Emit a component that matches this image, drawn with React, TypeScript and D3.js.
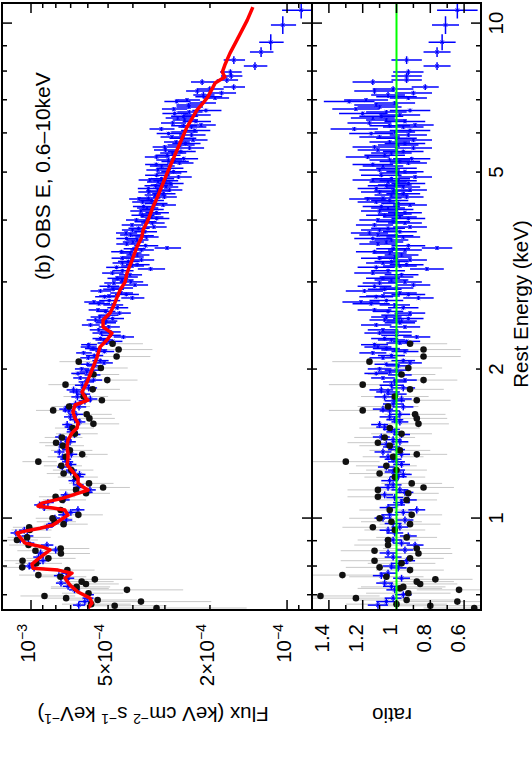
import React from 'react';
import * as d3 from 'd3';

// ---------- data ----------
// model curve: [energy keV, flux keV cm^-2 s^-1 keV^-1]
const modelCurve: [number, number][] = [
  [0.658, 5.99e-4], [0.673, 5.78e-4], [0.689, 5.88e-4], [0.709, 6.55e-4], [0.732, 7.04e-4],
  [0.756, 7.37e-4], [0.774, 6.92e-4], [0.785, 7.84e-4], [0.792, 9.82e-4], [0.807, 9.91e-4],
  [0.823, 9.47e-4], [0.862, 8.43e-4], [0.874, 8.98e-4], [0.89, 1.055e-3], [0.915, 1.104e-3],
  [0.933, 1.134e-3], [0.941, 1.055e-3], [0.954, 9.22e-4], [0.968, 8.21e-4], [1.014, 7.17e-4],
  [1.038, 7.37e-4], [1.048, 8.21e-4], [1.057, 9.39e-4], [1.072, 9.06e-4], [1.097, 7.5e-4],
  [1.139, 5.99e-4], [1.155, 6.26e-4], [1.177, 6.55e-4], [1.204, 6.55e-4], [1.239, 6.86e-4],
  [1.28, 7.23e-4], [1.322, 7.17e-4], [1.353, 7.17e-4], [1.391, 7.23e-4], [1.437, 7.17e-4],
  [1.485, 6.92e-4], [1.52, 6.61e-4], [1.555, 6.55e-4], [1.592, 6.73e-4], [1.637, 6.86e-4],
  [1.692, 6.73e-4], [1.731, 5.99e-4], [1.755, 6.15e-4], [1.797, 6.32e-4], [1.882, 6.04e-4],
  [1.991, 5.78e-4], [2.115, 5.52e-4], [2.215, 5.38e-4], [2.289, 5.05e-4], [2.364, 4.83e-4],
  [2.432, 5.23e-4], [2.512, 5.23e-4], [2.595, 4.91e-4], [2.669, 4.78e-4], [2.796, 4.61e-4],
  [2.888, 4.49e-4], [2.998, 4.29e-4], [3.126, 4.22e-4], [3.32, 4.03e-4], [3.527, 3.86e-4],
  [3.697, 3.69e-4], [3.818, 3.65e-4], [4.0, 3.49e-4], [4.249, 3.34e-4], [4.431, 3.22e-4],
  [4.977, 2.94e-4], [5.54, 2.69e-4], [6.165, 2.46e-4], [6.672, 2.25e-4], [6.893, 2.13e-4],
  [7.088, 2.04e-4], [7.565, 1.91e-4], [7.779, 1.75e-4], [7.962, 1.79e-4], [8.227, 1.75e-4],
  [8.698, 1.67e-4], [9.241, 1.57e-4], [10.14, 1.43e-4], [10.77, 1.36e-4],
];

// blue spectrum: [energy keV, bin half-width keV, data/model ratio, ratio error]
const blueBins: [number, number, number, number][] = [
  [0.667, 0.011, 1.11, 0.06], [0.678, 0.011, 1.06, 0.06], [0.689, 0.011, 1.02, 0.05], [0.7, 0.011, 0.96, 0.05],
  [0.716, 0.011, 1.01, 0.05], [0.728, 0.012, 1.03, 0.05], [0.739, 0.012, 1.07, 0.05], [0.756, 0.012, 0.97, 0.05],
  [0.765, 0.012, 1.09, 0.05], [0.774, 0.012, 1.05, 0.05], [0.793, 0.013, 0.99, 0.05], [0.8, 0.013, 1.03, 0.05],
  [0.81, 0.013, 0.98, 0.05], [0.82, 0.013, 0.94, 0.05], [0.834, 0.013, 1.02, 0.05], [0.85, 0.014, 1.05, 0.05],
  [0.862, 0.014, 0.95, 0.05], [0.882, 0.014, 0.89, 0.05], [0.89, 0.014, 0.97, 0.05], [0.903, 0.014, 1.02, 0.05],
  [0.92, 0.015, 0.93, 0.05], [0.933, 0.015, 1.01, 0.05], [0.945, 0.015, 1.05, 0.05], [0.959, 0.015, 0.98, 0.05],
  [0.975, 0.016, 1.02, 0.05], [0.991, 0.016, 0.95, 0.05], [1.0, 0.016, 1.08, 0.05], [1.015, 0.016, 1.04, 0.05],
  [1.027, 0.016, 0.96, 0.05], [1.039, 0.017, 0.88, 0.05], [1.05, 0.017, 1.05, 0.05], [1.063, 0.017, 1.0, 0.05],
  [1.075, 0.017, 0.97, 0.05], [1.088, 0.017, 0.93, 0.05], [1.1, 0.018, 1.01, 0.05], [1.114, 0.018, 1.07, 0.05],
  [1.127, 0.018, 0.95, 0.05], [1.14, 0.018, 0.98, 0.05], [1.153, 0.018, 1.05, 0.05], [1.167, 0.019, 1.02, 0.05],
  [1.19, 0.019, 1.04, 0.05], [1.212, 0.019, 0.99, 0.05], [1.225, 0.02, 0.96, 0.05], [1.239, 0.02, 1.02, 0.05],
  [1.25, 0.02, 1.0, 0.05], [1.268, 0.02, 1.06, 0.05], [1.283, 0.02, 0.97, 0.05], [1.299, 0.021, 1.0, 0.05],
  [1.315, 0.021, 1.02, 0.05], [1.329, 0.021, 1.05, 0.05], [1.345, 0.021, 0.97, 0.05], [1.36, 0.022, 1.08, 0.05],
  [1.375, 0.022, 1.0, 0.05], [1.392, 0.022, 1.03, 0.05], [1.41, 0.022, 1.06, 0.05], [1.426, 0.023, 0.98, 0.05],
  [1.44, 0.023, 1.02, 0.05], [1.458, 0.023, 1.09, 0.05], [1.475, 0.024, 0.97, 0.05], [1.493, 0.024, 1.01, 0.05],
  [1.51, 0.024, 1.03, 0.05], [1.527, 0.024, 1.07, 0.05], [1.545, 0.025, 1.1, 0.05], [1.564, 0.025, 0.98, 0.05],
  [1.58, 0.025, 1.01, 0.05], [1.601, 0.026, 1.04, 0.06], [1.62, 0.026, 0.98, 0.06], [1.646, 0.026, 1.04, 0.06],
  [1.66, 0.026, 1.08, 0.06], [1.677, 0.027, 0.96, 0.06], [1.7, 0.027, 1.02, 0.06], [1.725, 0.028, 1.01, 0.06],
  [1.74, 0.028, 0.97, 0.06], [1.757, 0.028, 1.07, 0.06], [1.78, 0.028, 1.0, 0.06], [1.798, 0.029, 1.05, 0.07],
  [1.815, 0.029, 1.09, 0.07], [1.832, 0.029, 0.96, 0.07], [1.855, 0.029, 1.03, 0.07], [1.884, 0.03, 1.01, 0.07],
  [1.9, 0.018, 0.95, 0.07], [1.919, 0.018, 1.08, 0.07], [1.946, 0.018, 0.98, 0.07], [1.96, 0.018, 1.12, 0.07],
  [1.973, 0.018, 1.04, 0.07], [1.99, 0.019, 1.0, 0.07], [2.001, 0.019, 1.1, 0.07], [2.03, 0.019, 0.99, 0.07],
  [2.045, 0.019, 1.06, 0.07], [2.058, 0.019, 0.92, 0.07], [2.08, 0.02, 0.96, 0.07], [2.107, 0.02, 1.08, 0.08],
  [2.13, 0.02, 1.03, 0.08], [2.156, 0.02, 1.14, 0.08], [2.17, 0.02, 0.95, 0.08], [2.186, 0.02, 1.01, 0.08],
  [2.2, 0.021, 1.06, 0.08], [2.216, 0.021, 1.11, 0.08], [2.24, 0.021, 1.13, 0.08], [2.258, 0.021, 0.98, 0.08],
  [2.275, 0.021, 0.94, 0.08], [2.29, 0.021, 1.03, 0.08], [2.305, 0.022, 1.07, 0.08], [2.322, 0.022, 0.88, 0.08],
  [2.34, 0.022, 1.0, 0.09], [2.365, 0.022, 1.1, 0.09], [2.377, 0.022, 1.0, 0.09], [2.4, 0.022, 1.08, 0.09],
  [2.433, 0.023, 0.95, 0.09], [2.455, 0.023, 1.12, 0.09], [2.48, 0.023, 0.98, 0.09], [2.5, 0.023, 0.97, 0.09],
  [2.513, 0.023, 1.07, 0.09], [2.53, 0.023, 0.93, 0.09], [2.548, 0.024, 1.06, 0.09], [2.57, 0.024, 1.0, 0.09],
  [2.595, 0.024, 0.92, 0.09], [2.615, 0.024, 1.05, 0.09], [2.633, 0.024, 1.13, 0.1], [2.66, 0.025, 0.96, 0.09],
  [2.695, 0.025, 1.01, 0.09], [2.71, 0.025, 1.15, 0.11], [2.732, 0.025, 1.21, 0.11], [2.75, 0.025, 1.06, 0.1],
  [2.784, 0.026, 0.87, 0.09], [2.8, 0.026, 1.12, 0.1], [2.81, 0.026, 1.08, 0.1], [2.83, 0.026, 0.93, 0.1],
  [2.849, 0.026, 0.98, 0.1], [2.876, 0.027, 1.19, 0.11], [2.9, 0.027, 1.07, 0.1], [2.916, 0.027, 1.0, 0.1],
  [2.94, 0.027, 1.13, 0.1], [2.957, 0.027, 0.9, 0.1], [2.985, 0.028, 1.1, 0.1], [3.0, 0.028, 0.95, 0.1],
  [3.027, 0.028, 1.03, 0.1], [3.05, 0.028, 1.08, 0.1], [3.069, 0.029, 1.0, 0.1], [3.1, 0.029, 0.97, 0.1],
  [3.126, 0.029, 1.14, 0.11], [3.16, 0.029, 1.05, 0.1], [3.186, 0.03, 0.82, 0.1], [3.21, 0.03, 1.12, 0.11],
  [3.231, 0.03, 0.98, 0.1], [3.25, 0.03, 0.94, 0.1], [3.276, 0.03, 1.08, 0.1], [3.3, 0.03, 1.03, 0.1],
  [3.322, 0.031, 0.92, 0.1], [3.35, 0.031, 1.1, 0.11], [3.369, 0.031, 1.01, 0.1], [3.4, 0.031, 0.97, 0.1],
  [3.431, 0.032, 1.04, 0.1], [3.45, 0.032, 1.13, 0.11], [3.48, 0.032, 0.95, 0.1], [3.5, 0.032, 1.02, 0.1],
  [3.513, 0.033, 0.76, 0.09], [3.55, 0.033, 0.93, 0.1], [3.579, 0.033, 1.11, 0.11], [3.61, 0.033, 1.06, 0.1],
  [3.646, 0.034, 1.03, 0.1], [3.67, 0.034, 1.14, 0.11], [3.697, 0.034, 0.96, 0.1], [3.72, 0.034, 1.0, 0.1],
  [3.732, 0.035, 1.11, 0.11], [3.767, 0.035, 1.16, 0.11], [3.79, 0.035, 0.98, 0.1], [3.819, 0.036, 1.1, 0.11],
  [3.85, 0.036, 1.05, 0.1], [3.873, 0.036, 0.92, 0.1], [3.91, 0.036, 1.13, 0.11], [3.946, 0.037, 0.95, 0.1],
  [3.97, 0.037, 1.02, 0.1], [4.001, 0.037, 1.11, 0.11], [4.03, 0.037, 0.93, 0.1], [4.058, 0.038, 0.98, 0.1],
  [4.09, 0.038, 1.07, 0.11], [4.114, 0.038, 1.01, 0.1], [4.14, 0.038, 0.95, 0.1], [4.172, 0.039, 1.1, 0.11],
  [4.2, 0.039, 1.0, 0.1], [4.231, 0.039, 1.05, 0.1], [4.26, 0.039, 1.09, 0.11], [4.29, 0.04, 0.92, 0.1],
  [4.32, 0.04, 0.99, 0.1], [4.35, 0.04, 1.12, 0.11], [4.38, 0.04, 1.04, 0.11], [4.412, 0.041, 1.17, 0.11],
  [4.43, 0.041, 1.08, 0.11], [4.453, 0.041, 0.94, 0.1], [4.495, 0.042, 1.03, 0.1], [4.52, 0.042, 0.96, 0.1],
  [4.557, 0.042, 1.1, 0.11], [4.58, 0.042, 1.02, 0.11], [4.6, 0.043, 0.92, 0.1], [4.63, 0.043, 1.12, 0.11],
  [4.665, 0.043, 0.96, 0.1], [4.69, 0.043, 1.06, 0.11], [4.709, 0.044, 1.01, 0.1], [4.74, 0.044, 0.93, 0.1],
  [4.774, 0.044, 1.05, 0.11], [4.8, 0.044, 0.99, 0.11], [4.819, 0.045, 1.14, 0.12], [4.85, 0.045, 1.03, 0.11],
  [4.887, 0.045, 0.89, 0.1], [4.93, 0.046, 1.09, 0.12], [4.979, 0.046, 0.99, 0.11], [5.01, 0.046, 0.95, 0.11],
  [5.049, 0.047, 1.1, 0.12], [5.09, 0.047, 1.0, 0.12], [5.143, 0.048, 1.08, 0.12], [5.18, 0.048, 1.14, 0.12],
  [5.215, 0.048, 0.93, 0.11], [5.25, 0.048, 0.98, 0.12], [5.289, 0.049, 1.04, 0.12], [5.32, 0.049, 0.91, 0.11],
  [5.363, 0.05, 1.17, 0.13], [5.41, 0.05, 1.07, 0.12], [5.463, 0.051, 1.03, 0.12], [5.5, 0.051, 0.96, 0.12],
  [5.541, 0.052, 1.11, 0.12], [5.592, 0.052, 0.9, 0.11], [5.62, 0.052, 1.13, 0.13], [5.671, 0.053, 0.99, 0.12],
  [5.71, 0.053, 0.95, 0.12], [5.751, 0.053, 1.04, 0.12], [5.804, 0.054, 0.9, 0.11], [5.85, 0.054, 1.0, 0.12],
  [5.886, 0.055, 1.1, 0.12], [5.941, 0.055, 0.93, 0.11], [5.98, 0.055, 1.15, 0.13], [6.024, 0.056, 1.01, 0.12],
  [6.07, 0.056, 0.92, 0.12], [6.11, 0.057, 1.25, 0.14], [6.166, 0.057, 0.96, 0.12], [6.2, 0.057, 1.04, 0.12],
  [6.224, 0.058, 0.89, 0.11], [6.282, 0.058, 1.16, 0.13], [6.33, 0.058, 0.95, 0.12], [6.37, 0.059, 1.06, 0.12],
  [6.43, 0.06, 1.14, 0.13], [6.48, 0.06, 1.09, 0.13], [6.52, 0.061, 0.98, 0.12], [6.57, 0.061, 1.2, 0.14],
  [6.611, 0.061, 1.06, 0.12], [6.66, 0.061, 0.92, 0.12], [6.704, 0.062, 1.24, 0.14], [6.767, 0.063, 1.1, 0.13],
  [6.83, 0.063, 1.12, 0.13], [6.894, 0.064, 1.01, 0.12], [6.94, 0.064, 1.28, 0.15], [6.99, 0.065, 1.18, 0.13],
  [7.057, 0.066, 0.93, 0.11], [7.1, 0.07, 1.0, 0.12], [7.155, 0.1, 1.05, 0.1], [7.22, 0.08, 0.9, 0.11],
  [7.289, 0.1, 1.13, 0.12], [7.36, 0.09, 1.02, 0.12], [7.427, 0.1, 0.83, 0.08], [7.6, 0.1, 1.14, 0.12],
  [7.672, 0.105, 0.94, 0.09], [7.816, 0.11, 0.94, 0.09], [7.962, 0.11, 0.93, 0.09], [8.188, 0.15, 0.76, 0.08],
  [8.419, 0.15, 0.94, 0.09], [8.74, 0.2, 0.76, 0.08], [9.15, 0.34, 0.73, 0.08], [9.91, 0.41, 0.71, 0.08],
  [10.62, 0.4, 0.64, 0.12],
];

// black spectrum: [energy keV, data/model ratio, ratio error]
const blackPoints: [number, number, number][] = [
  [0.658, 0.54, 0.3], [0.665, 0.8, 0.3], [0.67, 1.0, 0.3], [0.678, 0.64, 0.3], [0.683, 0.94, 0.28],
  [0.689, 1.24, 0.3], [0.696, 1.45, 0.35], [0.705, 0.93, 0.25], [0.716, 0.63, 0.25], [0.721, 0.98, 0.25],
  [0.726, 0.96, 0.25], [0.736, 0.86, 0.22], [0.744, 0.88, 0.22], [0.752, 0.77, 0.22], [0.761, 1.06, 0.22],
  [0.767, 1.32, 0.25], [0.785, 0.92, 0.2], [0.795, 1.1, 0.2], [0.81, 0.97, 0.2], [0.82, 1.13, 0.2],
  [0.829, 0.92, 0.2], [0.848, 0.87, 0.2], [0.859, 1.13, 0.2], [0.868, 0.88, 0.2], [0.882, 1.05, 0.2],
  [0.903, 1.05, 0.18], [0.914, 0.94, 0.18], [0.946, 1.01, 0.18], [0.958, 1.14, 0.18], [0.972, 0.92, 0.18],
  [0.983, 1.03, 0.18], [0.999, 1.1, 0.18], [1.015, 0.91, 0.18], [1.038, 1.04, 0.18], [1.088, 0.94, 0.18],
  [1.104, 1.11, 0.18], [1.122, 0.93, 0.18], [1.14, 1.11, 0.18], [1.153, 0.84, 0.18], [1.175, 0.91, 0.18],
  [1.21, 1.01, 0.18], [1.23, 1.1, 0.18], [1.25, 1.0, 0.18], [1.275, 1.06, 0.18], [1.3, 1.3, 0.2],
  [1.33, 1.02, 0.18], [1.345, 0.88, 0.18], [1.37, 0.98, 0.18], [1.4, 1.04, 0.18], [1.42, 1.11, 0.18],
  [1.455, 1.07, 0.18], [1.48, 0.97, 0.18], [1.52, 1.04, 0.18], [1.55, 0.87, 0.18], [1.59, 0.88, 0.18],
  [1.62, 0.89, 0.18], [1.65, 1.2, 0.2], [1.68, 1.05, 0.18], [1.73, 0.88, 0.2], [1.76, 1.01, 0.2],
  [1.82, 0.92, 0.2], [1.86, 1.2, 0.2], [1.9, 0.84, 0.2], [1.95, 0.97, 0.2], [2.01, 0.93, 0.2],
  [2.07, 1.16, 0.22], [2.12, 0.84, 0.22], [2.19, 0.84, 0.22], [2.25, 0.92, 0.22],
];

const energyMajorTicks = [1, 10];
const energyMinorTicks = [0.7, 0.8, 0.9, 2, 3, 4, 5, 6, 7, 8, 9];
const energyTickLabels = [1, 2, 5, 10];
const fluxMajorTicks = [1e-3, 1e-4];
const fluxMinorTicks = [9e-5, 2e-4, 3e-4, 4e-4, 5e-4, 6e-4, 7e-4, 8e-4, 9e-4];
const fluxTickLabels: { v: number; mant: string; exp: string }[] = [
  { v: 1e-3, mant: '', exp: '−3' },
  { v: 5e-4, mant: '5×', exp: '−4' },
  { v: 2e-4, mant: '2×', exp: '−4' },
  { v: 1e-4, mant: '', exp: '−4' },
];
const ratioMajorTicks = [0.6, 0.8, 1, 1.2, 1.4];
const ratioMinorTicks = [0.5, 0.7, 0.9, 1.1, 1.3, 1.5];
const ratioTickLabels = ['0.6', '0.8', '1', '1.2', '1.4'];

// ---------- layout (drawn in landscape, then rotated) ----------
const W = 763;
const X0 = 153, X1 = 760;
const TOP = 2, MID = 312, BOT = 481;
const FONT = "'Liberation Sans', Arial, Helvetica, sans-serif";
const FS = 20.5;

const xE = d3.scaleLog().domain([0.652, 10.98]).range([X0, X1]);
const yF = d3.scaleLog().domain([1.298e-3, 7.99e-5]).range([TOP, MID]);
const yR = d3.scaleLinear().domain([1.5, 0.5]).range([MID, BOT]);

const bis = d3.bisector((d: [number, number]) => d[0]).right;
function modelAt(e: number): number {
  const n = modelCurve.length;
  if (e <= modelCurve[0][0]) return modelCurve[0][1];
  if (e >= modelCurve[n - 1][0]) return modelCurve[n - 1][1];
  const i = bis(modelCurve, e);
  const [e0, f0] = modelCurve[i - 1];
  const [e1, f1] = modelCurve[i];
  const t = (Math.log(e) - Math.log(e0)) / (Math.log(e1) - Math.log(e0));
  return Math.exp(Math.log(f0) + t * (Math.log(f1) - Math.log(f0)));
}

const BLUE = '#0000ff';
const GRAY = '#c8c8c8';

function cross(x: number, y: number, s: number) {
  return `M${x - s},${y - s}L${x + s},${y + s}M${x - s},${y + s}L${x + s},${y - s}`;
}

export default function App() {
  const modelLine = d3
    .line<[number, number]>()
    .x((d) => xE(d[0]))
    .y((d) => yF(d[1]))
    .curve(d3.curveLinear)(modelCurve) as string;

  const blue = blueBins.map(([e, de, r, re]) => {
    const m = modelAt(e);
    return { e, de, r, re, f: r * m, fLo: Math.max((r - re) * m, 1e-6), fHi: (r + re) * m };
  });
  const black = blackPoints.map(([e, r, re]) => {
    const m = modelAt(e);
    return { e, r, re, f: r * m, fLo: Math.max((r - re) * m, 1e-6), fHi: (r + re) * m };
  });

  const ticks: JSX.Element[] = [];
  let k = 0;
  const addEnergyTicks = (v: number, len: number) => {
    const x = xE(v);
    ticks.push(<line key={k++} x1={x} x2={x} y1={TOP} y2={TOP + len} />);
    ticks.push(<line key={k++} x1={x} x2={x} y1={MID} y2={MID - len} />);
    ticks.push(<line key={k++} x1={x} x2={x} y1={MID} y2={MID + len} />);
    ticks.push(<line key={k++} x1={x} x2={x} y1={BOT} y2={BOT - len} />);
  };
  energyMajorTicks.forEach((v) => addEnergyTicks(v, 10));
  energyMinorTicks.forEach((v) => addEnergyTicks(v, 5));
  const addY = (y: number, len: number) => {
    ticks.push(<line key={k++} x1={X0} x2={X0 + len} y1={y} y2={y} />);
    ticks.push(<line key={k++} x1={X1} x2={X1 - len} y1={y} y2={y} />);
  };
  fluxMajorTicks.forEach((v) => addY(yF(v), 10));
  fluxMinorTicks.forEach((v) => addY(yF(v), 5));
  ratioMajorTicks.forEach((v) => addY(yR(v), 10));
  ratioMinorTicks.forEach((v) => addY(yR(v), 5));

  return (
    <svg
      width={532}
      height={763}
      style={{ position: 'absolute', left: 0, top: 0, background: '#fff' }}
      fontFamily={FONT}
    >
      <defs>
        <clipPath id="clipTop">
          <rect x={X0} y={TOP} width={X1 - X0} height={MID - TOP} />
        </clipPath>
        <clipPath id="clipBot">
          <rect x={X0} y={MID} width={X1 - X0} height={BOT - MID} />
        </clipPath>
      </defs>
      <rect x={0} y={0} width={532} height={763} fill="#fff" />
      <g transform={`translate(0,${W}) rotate(-90)`}>
        {/* top panel */}
        <g clipPath="url(#clipTop)">
          <g stroke={GRAY} strokeWidth={1}>
            {black.map((d, i) => (
              <line key={i} x1={xE(d.e)} x2={xE(d.e)} y1={yF(d.fLo)} y2={yF(d.fHi)} />
            ))}
          </g>
          <g stroke={BLUE} strokeWidth={1.5} fill="none">
            {blue.map((d, i) => (
              <g key={i}>
                <line x1={xE(d.e - d.de)} x2={xE(d.e + d.de)} y1={yF(d.f)} y2={yF(d.f)} />
                <line x1={xE(d.e)} x2={xE(d.e)} y1={yF(d.fLo)} y2={yF(d.fHi)} />
                <path d={cross(xE(d.e), yF(d.f), 1.8)} strokeWidth={0.9} />
              </g>
            ))}
          </g>
          <g fill="#111">
            {black.map((d, i) => (
              <circle key={i} cx={xE(d.e)} cy={yF(d.f)} r={3.3} />
            ))}
          </g>
          <path d={modelLine} fill="none" stroke="#ff0000" strokeWidth={3.5} strokeLinejoin="round" />
        </g>

        {/* bottom panel */}
        <g clipPath="url(#clipBot)">
          <g stroke={GRAY} strokeWidth={1}>
            {black.map((d, i) => (
              <line key={i} x1={xE(d.e)} x2={xE(d.e)} y1={yR(d.r - d.re)} y2={yR(d.r + d.re)} />
            ))}
          </g>
          <g stroke={BLUE} strokeWidth={1.5} fill="none">
            {blue.map((d, i) => (
              <g key={i}>
                <line x1={xE(d.e - d.de)} x2={xE(d.e + d.de)} y1={yR(d.r)} y2={yR(d.r)} />
                <line x1={xE(d.e)} x2={xE(d.e)} y1={yR(d.r - d.re)} y2={yR(d.r + d.re)} />
                <path d={cross(xE(d.e), yR(d.r), 1.8)} strokeWidth={0.9} />
              </g>
            ))}
          </g>
          <g fill="#111">
            {black.map((d, i) => (
              <circle key={i} cx={xE(d.e)} cy={yR(d.r)} r={3.3} />
            ))}
          </g>
          <line x1={X0} x2={X1} y1={yR(1)} y2={yR(1)} stroke="#00ff00" strokeWidth={2} />
        </g>

        {/* frame and ticks */}
        <g stroke="#000" strokeWidth={1.5} fill="none">
          <rect x={X0} y={TOP} width={X1 - X0} height={BOT - TOP} strokeWidth={2} />
          <line x1={X0} x2={X1} y1={MID} y2={MID} strokeWidth={2} />
          {ticks}
        </g>

        {/* labels */}
        <g fontSize={FS} fill="#000">
          {energyTickLabels.map((v) => (
            <text key={v} x={xE(v)} y={503} textAnchor="middle">
              {String(v)}
            </text>
          ))}
          {fluxTickLabels.map((t) => (
            <text key={t.v} x={139} y={yF(t.v) + 4} textAnchor="end">
              <tspan>{t.mant}10</tspan>
              <tspan dy={-8} fontSize={14}>
                {t.exp}
              </tspan>
            </text>
          ))}
          {ratioMajorTicks.map((v, i) => (
            <text key={v} x={139} y={yR(v) + 0.5} textAnchor="end">
              {ratioTickLabels[i]}
            </text>
          ))}
          <text x={459} y={528} textAnchor="middle">
            Rest Energy (keV)
          </text>
          <text transform={`translate(56,153) rotate(-90)`} textAnchor="middle">
            <tspan>Flux (keV cm</tspan>
            <tspan dy={-7} fontSize={14}>−2</tspan>
            <tspan dy={7}> s</tspan>
            <tspan dy={-7} fontSize={14}>−1</tspan>
            <tspan dy={7}> keV</tspan>
            <tspan dy={-7} fontSize={14}>−1</tspan>
            <tspan dy={7}>)</tspan>
          </text>
          <text transform={`translate(55,392) rotate(-90)`} textAnchor="middle">
            ratio
          </text>
          <text x={483} y={50} fontSize={21}>
            (b) OBS E, 0.6–10keV
          </text>
        </g>
      </g>
    </svg>
  );
}
